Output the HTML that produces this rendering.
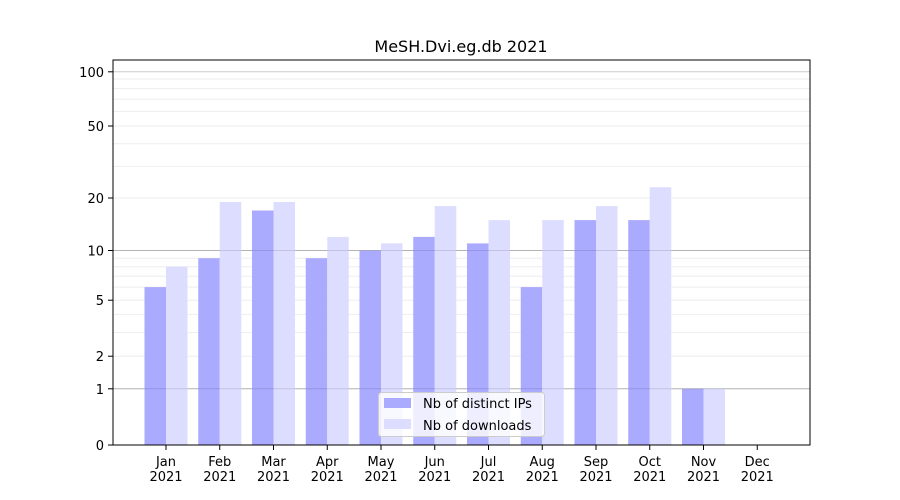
<!DOCTYPE html><html><head><style>body{margin:0;background:#fff}svg{display:block}text{font-family:"DejaVu Sans","Liberation Sans",sans-serif;font-size:13px;fill:#000}</style></head><body>
<svg width="900" height="500" xmlns="http://www.w3.org/2000/svg">
<g stroke="#eeeeee" stroke-width="1">
<line x1="113" x2="810" y1="356.2" y2="356.2"/><line x1="113" x2="810" y1="332.5" y2="332.5"/><line x1="113" x2="810" y1="314.4" y2="314.4"/><line x1="113" x2="810" y1="300.2" y2="300.2"/><line x1="113" x2="810" y1="287.1" y2="287.1"/><line x1="113" x2="810" y1="276.3" y2="276.3"/><line x1="113" x2="810" y1="266.7" y2="266.7"/><line x1="113" x2="810" y1="258.2" y2="258.2"/>
<line x1="113" x2="810" y1="198" y2="198"/><line x1="113" x2="810" y1="166.4" y2="166.4"/><line x1="113" x2="810" y1="143.7" y2="143.7"/><line x1="113" x2="810" y1="126" y2="126"/><line x1="113" x2="810" y1="111.5" y2="111.5"/><line x1="113" x2="810" y1="99.2" y2="99.2"/><line x1="113" x2="810" y1="88.5" y2="88.5"/><line x1="113" x2="810" y1="79" y2="79"/>
</g>
<g stroke="#cccccc"><line x1="113" x2="810" y1="388.8" y2="388.8"/><line x1="113" x2="810" y1="250.5" y2="250.5"/><line x1="113" x2="810" y1="71.8" y2="71.8"/></g>
<g fill="#aaaaff">
<rect x="144.5" y="287.1" width="21.5" height="157.9"/>
<rect x="198.25" y="258.2" width="21.5" height="186.8"/>
<rect x="252" y="210.5" width="21.5" height="234.5"/>
<rect x="305.75" y="258.2" width="21.5" height="186.8"/>
<rect x="359.5" y="250.5" width="21.5" height="194.5"/>
<rect x="413.25" y="236.9" width="21.5" height="208.1"/>
<rect x="467" y="243.4" width="21.5" height="201.6"/>
<rect x="520.75" y="287.1" width="21.5" height="157.9"/>
<rect x="574.5" y="220.1" width="21.5" height="224.9"/>
<rect x="628.25" y="220.1" width="21.5" height="224.9"/>
<rect x="682" y="388.8" width="21.5" height="56.2"/>
</g>
<g fill="#ddddff">
<rect x="166" y="266.7" width="21.5" height="178.3"/>
<rect x="219.75" y="202" width="21.5" height="243"/>
<rect x="273.5" y="202" width="21.5" height="243"/>
<rect x="327.25" y="236.9" width="21.5" height="208.1"/>
<rect x="381" y="243.4" width="21.5" height="201.6"/>
<rect x="434.75" y="206.1" width="21.5" height="238.9"/>
<rect x="488.5" y="220.1" width="21.5" height="224.9"/>
<rect x="542.25" y="220.1" width="21.5" height="224.9"/>
<rect x="596" y="206.1" width="21.5" height="238.9"/>
<rect x="649.75" y="187.2" width="21.5" height="257.8"/>
<rect x="703.5" y="388.8" width="21.5" height="56.2"/>
</g>
<g stroke="#000" stroke-opacity="0.12"><line x1="113" x2="810" y1="388.8" y2="388.8"/><line x1="113" x2="810" y1="250.5" y2="250.5"/></g>
<rect x="113" y="60" width="697" height="385" fill="none" stroke="#000" stroke-width="1"/>
<g stroke="#000">
<line x1="108" x2="113" y1="445" y2="445"/><line x1="108" x2="113" y1="388.8" y2="388.8"/><line x1="108" x2="113" y1="356.2" y2="356.2"/><line x1="108" x2="113" y1="300.2" y2="300.2"/><line x1="108" x2="113" y1="250.5" y2="250.5"/><line x1="108" x2="113" y1="198" y2="198"/><line x1="108" x2="113" y1="126" y2="126"/><line x1="108" x2="113" y1="71.8" y2="71.8"/>
<line x1="166" x2="166" y1="445" y2="450"/><line x1="219.75" x2="219.75" y1="445" y2="450"/><line x1="273.5" x2="273.5" y1="445" y2="450"/><line x1="327.25" x2="327.25" y1="445" y2="450"/><line x1="381" x2="381" y1="445" y2="450"/><line x1="434.75" x2="434.75" y1="445" y2="450"/><line x1="488.5" x2="488.5" y1="445" y2="450"/><line x1="542.25" x2="542.25" y1="445" y2="450"/><line x1="596" x2="596" y1="445" y2="450"/><line x1="649.75" x2="649.75" y1="445" y2="450"/><line x1="703.5" x2="703.5" y1="445" y2="450"/><line x1="757.25" x2="757.25" y1="445" y2="450"/>
</g>
<g text-anchor="end">
<text x="104" y="450">0</text><text x="104" y="393.8">1</text><text x="104" y="361.2">2</text><text x="104" y="305.2">5</text><text x="104" y="255.5">10</text><text x="104" y="203">20</text><text x="104" y="131">50</text><text x="104" y="76.8">100</text>
</g>
<g text-anchor="middle">
<text x="166" y="466">Jan</text><text x="166" y="481">2021</text>
<text x="219.75" y="466">Feb</text><text x="219.75" y="481">2021</text>
<text x="273.5" y="466">Mar</text><text x="273.5" y="481">2021</text>
<text x="327.25" y="466">Apr</text><text x="327.25" y="481">2021</text>
<text x="381" y="466">May</text><text x="381" y="481">2021</text>
<text x="434.75" y="466">Jun</text><text x="434.75" y="481">2021</text>
<text x="488.5" y="466">Jul</text><text x="488.5" y="481">2021</text>
<text x="542.25" y="466">Aug</text><text x="542.25" y="481">2021</text>
<text x="596" y="466">Sep</text><text x="596" y="481">2021</text>
<text x="649.75" y="466">Oct</text><text x="649.75" y="481">2021</text>
<text x="703.5" y="466">Nov</text><text x="703.5" y="481">2021</text>
<text x="757.25" y="466">Dec</text><text x="757.25" y="481">2021</text>
<text x="461" y="52" style="font-size:16px">MeSH.Dvi.eg.db 2021</text>
</g>
<rect x="378.5" y="392.5" width="166" height="44" rx="3" fill="#fff" fill-opacity="0.8" stroke="#cccccc"/>
<rect x="384" y="398" width="27" height="10" fill="#aaaaff"/>
<rect x="384" y="419" width="27" height="10" fill="#ddddff"/>
<text x="423" y="408">Nb of distinct IPs</text>
<text x="423" y="430">Nb of downloads</text>
</svg>
</body></html>
